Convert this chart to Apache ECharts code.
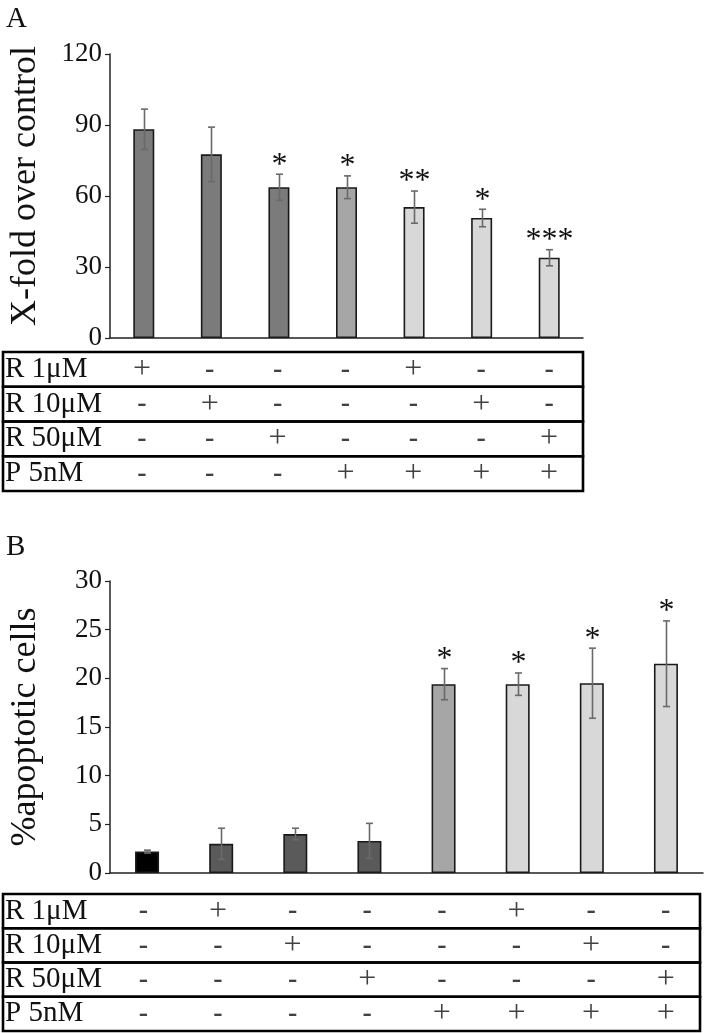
<!DOCTYPE html>
<html><head><meta charset="utf-8">
<script src="https://cdn.jsdelivr.net/npm/echarts@6/dist/echarts.min.js"></script>
<style>html,body{margin:0;padding:0;background:#fff}#c{width:706px;height:1033px}</style>
</head><body><div id="c"></div>
<script>
// ---------- data ----------
const categoriesA = ['a1','a2','a3','a4','a5','a6','a7'];
const meansA = [88.2, 77.6, 63.7, 63.7, 55.3, 50.7, 33.9];
const errorsA = [8.5, 11.5, 5.5, 4.8, 6.8, 3.7, 3.4];
const starsA = ['', '', '*', '*', '**', '*', '***'];
const ticksA = [0, 30, 60, 90, 120];

const categoriesB = ['b1','b2','b3','b4','b5','b6','b7','b8'];
const meansB = [2.2, 3.0, 4.0, 3.3, 19.4, 19.4, 19.5, 21.5];
const errorsB = [0.15, 1.6, 0.6, 1.8, 1.6, 1.15, 3.6, 4.4];
const starsB = ['', '', '', '', '*', '*', '*', '*'];
const ticksB = [0, 5, 10, 15, 20, 25, 30];

const rowLabels = ['R 1\u03bcM', 'R 10\u03bcM', 'R 50\u03bcM', 'P 5nM'];
const tableA = [
  [1,0,0,0,1,0,0],
  [0,1,0,0,0,1,0],
  [0,0,1,0,0,0,1],
  [0,0,0,1,1,1,1]
];
const tableB = [
  [0,1,0,0,0,1,0,0],
  [0,0,1,0,0,0,1,0],
  [0,0,0,1,0,0,0,1],
  [0,0,0,0,1,1,1,1]
];
const yNameA = 'X-fold over control';
const yNameB = '%apoptotic cells';

// ---------- styles / layout ----------
const FONT = 'Liberation Serif';
const colorsA = ['#7b7b7b','#7b7b7b','#7b7b7b','#a6a6a6','#d8d8d8','#d8d8d8','#d8d8d8'];
const colorsB = ['#000000','#5a5a5a','#5a5a5a','#5a5a5a','#a6a6a6','#d8d8d8','#d8d8d8','#d8d8d8'];

const LA = {left:108, top:54, width:475, height:284, tTop:352, rowH:34.75, tLeft:3, tRight:583, barW:21};
const LB = {left:106, top:581, width:597, height:292, tTop:894, rowH:34.25, tLeft:3, tRight:700, barW:24};

function errRender(means, errs, stars) {
  return function (params, api) {
    const i = params.dataIndex;
    const top = api.coord([api.value(0), means[i] + errs[i]]);
    const bot = api.coord([api.value(0), means[i] - errs[i]]);
    const x = Math.round(top[0]) + 0.5;
    const cw = 3.5;
    const ls = {stroke:'#6a6a6a', lineWidth:1.6};
    const children = [
      {type:'line', shape:{x1:x, y1:top[1], x2:x, y2:bot[1]}, style:ls},
      {type:'line', shape:{x1:x-cw, y1:top[1], x2:x+cw, y2:top[1]}, style:ls},
      {type:'line', shape:{x1:x-cw, y1:bot[1], x2:x+cw, y2:bot[1]}, style:ls}
    ];
    if (stars[i]) {
      children.push({type:'text', x:x, y:top[1]-9, style:{text:stars[i], fontFamily:FONT, fontSize:32, fill:'#111', align:'center', verticalAlign:'middle'}});
    }
    return {type:'group', children};
  };
}

function tableData(tbl) {
  const out = [];
  tbl.forEach((row, r) => row.forEach((v, c) => out.push([c, r, v])));
  return out;
}

function tableGraphics(L) {
  const g = [];
  for (let r = 0; r < 4; r++) {
    g.push({type:'rect', shape:{x:L.tLeft, y:L.tTop + r*L.rowH, width:L.tRight - L.tLeft, height:L.rowH},
      style:{fill:'none', stroke:'#000', lineWidth:2.6}, z:10});
  }
  return g;
}

const valueAxisBase = {
  type:'value', splitLine:{show:false},
  axisLine:{show:true, lineStyle:{color:'#222', width:1.5}},
  axisTick:{show:true, length:5, lineStyle:{color:'#222', width:1.2}},
  axisLabel:{fontFamily:FONT, fontSize:27, color:'#111', margin:8},
  nameLocation:'middle', nameGap:66
};
const catAxisBase = {
  type:'category', axisTick:{show:false}, axisLabel:{show:false},
  axisLine:{show:true, lineStyle:{color:'#222', width:1.5}}
};
const rowAxis = (gi, L) => ({type:'category', gridIndex:gi, data:rowLabels, inverse:true,
  axisLine:{show:false}, axisTick:{show:false}, splitLine:{show:false},
  axisLabel:{interval:0, align:'left', margin:L.left - 5, fontFamily:FONT, fontSize:29, color:'#111'}});
const tableSeries = (xi, tbl) => ({type:'scatter', xAxisIndex:xi, yAxisIndex:xi, symbolSize:1,
  itemStyle:{color:'rgba(0,0,0,0)'}, data: tableData(tbl),
  label:{show:true, position:'inside', formatter:p => p.data[2] ? '{p|+}' : '{m|-}',
    rich:{p:{fontFamily:FONT, fontSize:32, color:'#111'}, m:{fontFamily:FONT, fontSize:28, fontWeight:'bold', color:'#111'}}}});

const option = {
  backgroundColor:'#fff',
  animation:false,
  title:[
    {text:'A', left:1, top:0, textStyle:{fontFamily:FONT, fontSize:29, fontWeight:'normal', color:'#111'}},
    {text:'B', left:1, top:528, textStyle:{fontFamily:FONT, fontSize:29, fontWeight:'normal', color:'#111'}}
  ],
  grid:[
    {left:LA.left, top:LA.top, width:LA.width, height:LA.height},
    {left:LA.left, top:LA.tTop, width:LA.width, height:LA.rowH*4},
    {left:LB.left, top:LB.top, width:LB.width, height:LB.height},
    {left:LB.left, top:LB.tTop, width:LB.width, height:LB.rowH*4}
  ],
  xAxis:[
    Object.assign({}, catAxisBase, {gridIndex:0, data:categoriesA}),
    {type:'category', gridIndex:1, data:categoriesA, show:false},
    Object.assign({}, catAxisBase, {gridIndex:2, data:categoriesB}),
    {type:'category', gridIndex:3, data:categoriesB, show:false}
  ],
  yAxis:[
    Object.assign({}, valueAxisBase, {gridIndex:0, min:ticksA[0], max:ticksA[ticksA.length-1], interval:30, name:yNameA,
      nameTextStyle:{fontFamily:FONT, fontSize:36, color:'#111', padding:[0,0,0,20]}}),
    rowAxis(1, LA),
    Object.assign({}, valueAxisBase, {gridIndex:2, min:ticksB[0], max:ticksB[ticksB.length-1], interval:5, name:yNameB,
      nameTextStyle:{fontFamily:FONT, fontSize:36, color:'#111'}}),
    rowAxis(3, LB)
  ],
  graphic: tableGraphics(LA).concat(tableGraphics(LB)),
  series:[
    {type:'bar', xAxisIndex:0, yAxisIndex:0, barWidth:LA.barW,
      data: meansA.map((v,i)=>({value:v, itemStyle:{color:colorsA[i]}})),
      itemStyle:{borderColor:'#1a1a1a', borderWidth:1.6}},
    {type:'custom', xAxisIndex:0, yAxisIndex:0, z:5,
      data: meansA.map((v,i)=>[i, v]), encode:{x:0, y:1},
      renderItem: errRender(meansA, errorsA, starsA)},
    tableSeries(1, tableA),
    {type:'bar', xAxisIndex:2, yAxisIndex:2, barWidth:LB.barW,
      data: meansB.map((v,i)=>({value:v, itemStyle:{color:colorsB[i]}})),
      itemStyle:{borderColor:'#1a1a1a', borderWidth:1.6}},
    {type:'custom', xAxisIndex:2, yAxisIndex:2, z:5,
      data: meansB.map((v,i)=>[i, v]), encode:{x:0, y:1},
      renderItem: errRender(meansB, errorsB, starsB)},
    tableSeries(3, tableB)
  ]
};
const chart = echarts.init(document.getElementById('c'), null, {renderer:'canvas'});
chart.setOption(option);
</script>
</body></html>
